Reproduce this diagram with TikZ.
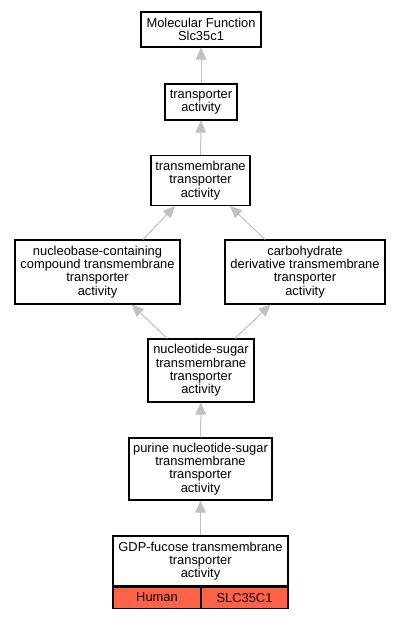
\documentclass[tikz,border=0pt]{standalone}
\usepackage{fontspec}
\setmainfont{Liberation Sans}
\usetikzlibrary{arrows.meta,calc}
\definecolor{edgegray}{HTML}{C0C0C0}
\definecolor{tomatored}{HTML}{FF6347}
\begin{document}
\begin{tikzpicture}[x=1bp,y=-1bp,
  term/.style={draw=black,line width=1.1bp,fill=white,inner sep=0pt,align=center,
    font=\fontsize{12.9bp}{13.3bp}\selectfont},
  cell/.style={draw=black,line width=1.1bp,fill=tomatored,inner sep=0pt,align=center,
    minimum height=21bp,font=\fontsize{12.9bp}{13.3bp}\selectfont},
  edge/.style={draw=edgegray,line width=1bp,-{Triangle[length=12bp,width=10.5bp]}}]
\useasboundingbox (0,0) rectangle (401,619);
\node[term,minimum width=120bp,minimum height=35bp] (n1) at (201,29.5) {Molecular Function\\Slc35c1};
\node[term,minimum width=72bp,minimum height=36bp] (n2) at (201,102) {transporter\\activity};
\node[term,minimum width=99bp,minimum height=50bp] (n3) at (200.5,180.5) {transmembrane\\transporter\\activity};
\node[term,minimum width=165bp,minimum height=64bp] (n4) at (97.5,272) {nucleobase-containing\\compound transmembrane\\transporter\\activity};
\node[term,minimum width=160bp,minimum height=64bp] (n5) at (305,272) {carbohydrate\\derivative transmembrane\\transporter\\activity};
\node[term,minimum width=106bp,minimum height=63bp] (n6) at (201,370.5) {nucleotide-sugar\\transmembrane\\transporter\\activity};
\node[term,minimum width=143bp,minimum height=62bp] (n7) at (200.5,469) {purine nucleotide-sugar\\transmembrane\\transporter\\activity};
\node[term,minimum width=175bp,minimum height=50bp] (n8) at (200.5,561) {GDP-fucose transmembrane\\transporter\\activity};
\node[cell,minimum width=88bp,anchor=north west] (hum) at (n8.south west) {Human};
\node[cell,minimum width=87bp,anchor=north east] (slc) at (n8.south east) {SLC35C1};
\draw[edge] (n2) -- (n1);
\draw[edge] (n3) -- (n2);
\draw[edge] ($(n4.north)+(45.5,0)$) -- ($(n3.south)+(-25.5,0)$);
\draw[edge] ($(n5.north)+(-40,0)$) -- ($(n3.south)+(29.5,0)$);
\draw[edge] (n6) -- (n4);
\draw[edge] (n6) -- (n5);
\draw[edge] (n7) -- (n6);
\draw[edge] (n8) -- (n7);
\end{tikzpicture}
\end{document}
